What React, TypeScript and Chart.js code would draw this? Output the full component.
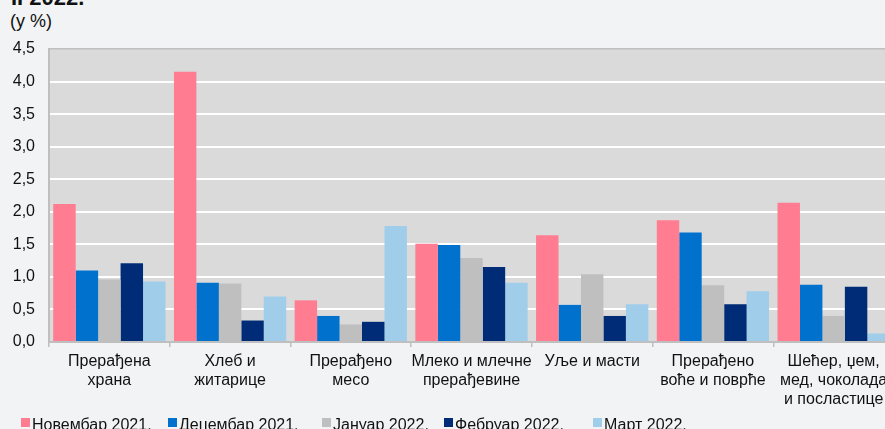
import React, { useEffect, useRef } from 'react';
import { Chart, registerables } from 'chart.js';

Chart.register(...registerables);

const categories: string[][] = [
  ['Прерађена', 'храна'],
  ['Хлеб и', 'житарице'],
  ['Прерађено', 'месо'],
  ['Млеко и млечне', 'прерађевине'],
  ['Уље и масти'],
  ['Прерађено', 'воће и поврће'],
  ['Шећер, џем,', 'мед, чоколада', 'и посластице'],
];

const seriesLabels = ['Новембар 2021.', 'Децембар 2021.', 'Јануар 2022.', 'Фебруар 2022.', 'Март 2022.'];

const nov2021 = [2.12, 4.15, 0.64, 1.51, 1.64, 1.87, 2.14];
const dec2021 = [1.1, 0.91, 0.4, 1.49, 0.57, 1.68, 0.88];
const jan2022 = [0.96, 0.9, 0.27, 1.29, 1.04, 0.87, 0.4];
const feb2022 = [1.21, 0.33, 0.31, 1.15, 0.4, 0.58, 0.85];
const mar2022 = [0.93, 0.7, 1.78, 0.91, 0.58, 0.78, 0.13];

const yMin = 0;
const yMax = 4.5;
const yStep = 0.5;

const titleTail = 'II 2022.';
const unitLabel = '(у %)';

const seriesColors = ['#ff7c91', '#0072ce', '#bfbfbf', '#002c77', '#a0cdea'];

const FONT = "'Liberation Sans', Arial, sans-serif";
const legendX = [21, 168, 322, 444, 593];

export default function App() {
  const canvasRef = useRef<HTMLCanvasElement | null>(null);

  useEffect(() => {
    const canvas = canvasRef.current;
    if (!canvas) return;
    const seriesData = [nov2021, dec2021, jan2022, feb2022, mar2022];

    const plotBg = {
      id: 'plotBg',
      beforeDraw(chart: any) {
        const { ctx, chartArea } = chart;
        ctx.save();
        ctx.fillStyle = '#dadada';
        ctx.fillRect(chartArea.left, chartArea.top, chartArea.right - chartArea.left, chartArea.bottom - chartArea.top);
        ctx.restore();
      },
    };

    const customLegend = {
      id: 'customLegend',
      afterDraw(chart: any) {
        const { ctx } = chart;
        ctx.save();
        ctx.font = `16px ${FONT}`;
        ctx.textBaseline = 'alphabetic';
        ctx.textAlign = 'left';
        chart.data.datasets.forEach((ds: any, i: number) => {
          const x = legendX[i];
          ctx.fillStyle = ds.backgroundColor;
          ctx.fillRect(x, 418, 9, 9);
          ctx.fillStyle = '#111';
          ctx.fillText(ds.label, x + 11, 429.5);
        });
        ctx.restore();
      },
    };

    const chart = new Chart(canvas, {
      type: 'bar',
      data: {
        labels: categories,
        datasets: seriesLabels.map((label, i) => ({
          label,
          data: seriesData[i],
          backgroundColor: seriesColors[i],
          borderWidth: 0,
          categoryPercentage: 0.93,
          barPercentage: 1,
        })),
      },
      options: {
        animation: false,
        responsive: false,
        devicePixelRatio: 1,
        layout: { padding: { left: 0, right: 6, top: 49, bottom: 28 } },
        plugins: {
          legend: { display: false },
          tooltip: { enabled: false },
          title: { display: false },
        },
        scales: {
          x: {
            afterFit(scale: any) {
              scale.height = 70;
            },
            grid: {
              drawOnChartArea: false,
              drawTicks: true,
              tickLength: 5,
              color: '#bfbfbf',
              lineWidth: 1.5,
            },
            border: { display: true, color: '#bfbfbf', width: 2 },
            ticks: {
              color: '#111',
              font: { family: FONT, size: 16 },
              padding: 5,
              maxRotation: 0,
              autoSkip: false,
            },
          },
          y: {
            min: yMin,
            max: yMax,
            afterFit(scale: any) {
              scale.width = 49;
            },
            grid: {
              drawTicks: false,
              color: (ctx: any) =>
                ctx.tick && ctx.tick.value === yMin ? 'rgba(0,0,0,0)' : ctx.tick && ctx.tick.value === yMax ? '#bfbfbf' : '#ffffff',
              lineWidth: (ctx: any) => (ctx.tick && ctx.tick.value === yMax ? 1.5 : 2),
            },
            border: { display: true, color: '#bfbfbf', width: 2 },
            ticks: {
              stepSize: yStep,
              color: '#111',
              padding: 14,
              font: { family: FONT, size: 16 },
              callback: (v: any) => Number(v).toFixed(1).replace('.', ','),
            },
          },
        },
      },
      plugins: [plotBg, customLegend],
    });

    return () => chart.destroy();
  }, []);

  return (
    <div
      style={{
        position: 'fixed',
        left: 0,
        top: 0,
        width: 885,
        height: 429,
        overflow: 'hidden',
        background: '#f2f3f5',
        fontFamily: FONT,
        color: '#111',
      }}
    >
      <div
        style={{
          position: 'absolute',
          left: 11,
          top: -13,
          fontSize: 22,
          lineHeight: '22px',
          fontWeight: 'bold',
          whiteSpace: 'nowrap',
        }}
      >
        {titleTail}
      </div>
      <div
        style={{
          position: 'absolute',
          left: 10,
          top: 12,
          fontSize: 18,
          lineHeight: '18px',
          whiteSpace: 'nowrap',
        }}
      >
        {unitLabel}
      </div>
      <canvas
        ref={canvasRef}
        width={900}
        height={440}
        style={{ position: 'absolute', left: 0, top: 0, width: 900, height: 440 }}
      />
    </div>
  );
}
